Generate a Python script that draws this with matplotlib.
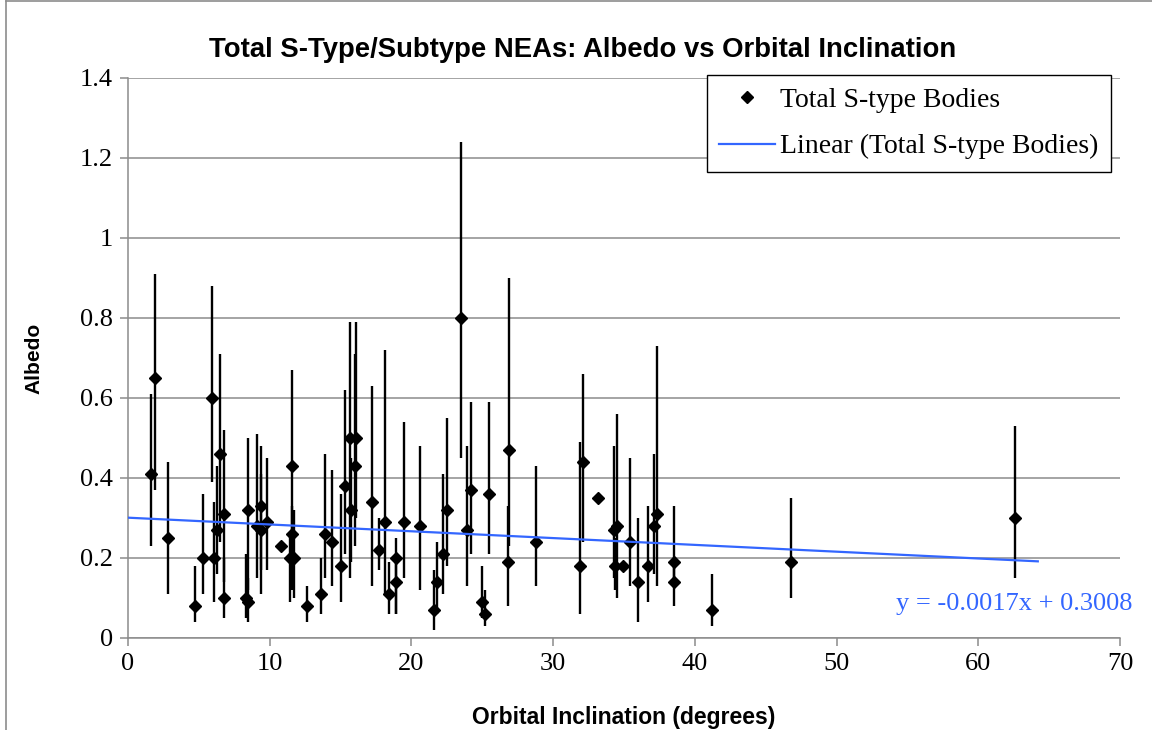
import matplotlib
matplotlib.use("Agg")
import matplotlib.pyplot as plt
from matplotlib.lines import Line2D
import numpy as np

# data
inclination = [1.6, 1.9, 2.8, 4.7, 5.3, 5.9, 6.05, 6.3, 6.5, 6.75, 6.8,
               8.3, 8.5, 8.5, 9.1, 9.35, 9.4, 9.8, 10.8, 11.45, 11.55, 11.55,
               11.7, 12.6, 13.6, 13.9, 14.4, 15.0, 15.3, 15.7, 15.75, 16.1,
               16.0, 17.2, 17.7, 18.1, 18.4, 18.9, 18.9, 19.5, 20.6, 21.6,
               21.8, 22.2, 22.5, 23.5, 23.9, 24.2, 25.0, 25.2, 25.5, 26.8,
               26.9, 28.8, 31.9, 32.1, 33.2, 34.3, 34.5, 34.4, 34.95, 35.4,
               36.0, 36.7, 37.1, 37.3, 38.5, 38.5, 41.2, 46.8, 62.6]
albedo = [0.41, 0.65, 0.25, 0.08, 0.20, 0.60, 0.20, 0.27, 0.46, 0.10, 0.31,
          0.10, 0.32, 0.09, 0.28, 0.33, 0.27, 0.29, 0.23, 0.20, 0.43, 0.26,
          0.20, 0.08, 0.11, 0.26, 0.24, 0.18, 0.38, 0.50, 0.32, 0.50,
          0.43, 0.34, 0.22, 0.29, 0.11, 0.20, 0.14, 0.29, 0.28, 0.07,
          0.14, 0.21, 0.32, 0.80, 0.27, 0.37, 0.09, 0.06, 0.36, 0.19,
          0.47, 0.24, 0.18, 0.44, 0.35, 0.27, 0.28, 0.18, 0.18, 0.24,
          0.14, 0.18, 0.28, 0.31, 0.19, 0.14, 0.07, 0.19, 0.30]
albedo_low = [0.23, 0.37, 0.11, 0.04, 0.11, 0.39, 0.09, 0.16, 0.24, 0.05, 0.14,
              0.05, 0.12, 0.04, 0.15, 0.11, 0.17, 0.17, 0.23, 0.09, 0.12, 0.15,
              0.10, 0.04, 0.06, 0.15, 0.13, 0.09, 0.21, 0.15, 0.19, 0.30,
              0.23, 0.13, 0.17, 0.11, 0.06, 0.06, 0.06, 0.15, 0.12, 0.02,
              0.06, 0.11, 0.18, 0.45, 0.13, 0.21, 0.05, 0.03, 0.21, 0.08,
              0.23, 0.13, 0.06, 0.24, 0.35, 0.15, 0.10, 0.12, 0.18, 0.13,
              0.04, 0.09, 0.16, 0.13, 0.13, 0.08, 0.03, 0.10, 0.15]
albedo_high = [0.61, 0.91, 0.44, 0.18, 0.36, 0.88, 0.34, 0.43, 0.71, 0.20, 0.52,
               0.21, 0.50, 0.15, 0.51, 0.48, 0.41, 0.45, 0.23, 0.26, 0.67, 0.33,
               0.32, 0.13, 0.20, 0.46, 0.42, 0.36, 0.62, 0.79, 0.45, 0.79,
               0.71, 0.63, 0.30, 0.72, 0.19, 0.25, 0.20, 0.54, 0.48, 0.17,
               0.24, 0.41, 0.55, 1.24, 0.48, 0.59, 0.18, 0.12, 0.59, 0.33,
               0.90, 0.43, 0.49, 0.66, 0.35, 0.48, 0.56, 0.25, 0.18, 0.45,
               0.30, 0.33, 0.46, 0.73, 0.33, 0.20, 0.16, 0.35, 0.53]

# Excel trendline coefficients
trend_slope = -0.0017
trend_intercept = 0.3008
trend_xmax = 64.2

x = np.array(inclination)
y = np.array(albedo)
yerr = [y - np.array(albedo_low), np.array(albedo_high) - y]

serif = "Liberation Serif"
sans = "Liberation Sans"
blue = "#3366ff"

fig = plt.figure(figsize=(11.52, 7.30), dpi=100)
ax = fig.add_axes([128/1152, 1 - 638/730, (1120-128)/1152, (638-78)/730])

ax.errorbar(x, y, yerr=yerr, fmt="none", ecolor="black", elinewidth=1.7,
            capsize=0, zorder=3)
ax.plot(x, y, "D", color="black", markersize=6.5, zorder=4)

tx = np.array([0, trend_xmax])
ax.plot(tx, trend_slope * tx + trend_intercept, color=blue, lw=1.6, zorder=5)

ax.set_xlim(0, 70)
ax.set_ylim(0, 1.4)
ax.set_xticks(range(0, 71, 10))
ax.set_yticks([0, 0.2, 0.4, 0.6, 0.8, 1.0, 1.2, 1.4])
ax.set_yticklabels(["0", "0.2", "0.4", "0.6", "0.8", "1", "1.2", "1.4"])
ax.yaxis.grid(True, color="#8c8c8c", lw=1.1)
ax.set_axisbelow(True)
for s in ["top", "right"]:
    ax.spines[s].set_visible(False)
for s in ["left", "bottom"]:
    ax.spines[s].set_color("#8c8c8c")
    ax.spines[s].set_linewidth(1.1)
ax.tick_params(direction="out", length=6, width=1.1, color="#8c8c8c",
               labelsize=19, pad=5)
for lab in ax.get_xticklabels() + ax.get_yticklabels():
    lab.set_fontfamily(serif)

fig.text(583/1152, 1 - 50/730,
         "Total S-Type/Subtype NEAs: Albedo vs Orbital Inclination",
         ha="center", va="center", fontsize=19.8, fontweight="bold", family=sans)
ax.set_xlabel("Orbital Inclination (degrees)", fontsize=16.5, fontweight="bold",
              family=sans, labelpad=22)
ax.set_ylabel("Albedo", fontsize=15, fontweight="bold", family=sans,
              labelpad=26)

ax.text(1.013, 0.061, "y = -0.0017x + 0.3008", transform=ax.transAxes,
        ha="right", va="center", color=blue, fontsize=19, family=serif)

handles = [Line2D([], [], ls="none", marker="D", color="black", markersize=6),
           Line2D([], [], color=blue, lw=1.6)]
leg = ax.legend(handles, ["Total S-type Bodies", "Linear (Total S-type Bodies)"],
                loc="upper right", bbox_to_anchor=(0.991, 1.005),
                prop={"family": serif, "size": 20}, frameon=True, fancybox=False,
                edgecolor="black", borderpad=0.45, labelspacing=0.75,
                handlelength=2.0, handletextpad=0.2, borderaxespad=0)
leg.get_frame().set_linewidth(1.0)
leg.get_frame().set_alpha(1)

# outer chart frame (cropped on right and bottom)
fig.add_artist(Line2D([6/1152, 6/1152], [0, 1 - 1/730], color="#8c8c8c",
                      lw=1.2, transform=fig.transFigure))
fig.add_artist(Line2D([6/1152, 1], [1 - 1/730, 1 - 1/730], color="#8c8c8c",
                      lw=1.2, transform=fig.transFigure))

fig.savefig("out.png", dpi=100)
